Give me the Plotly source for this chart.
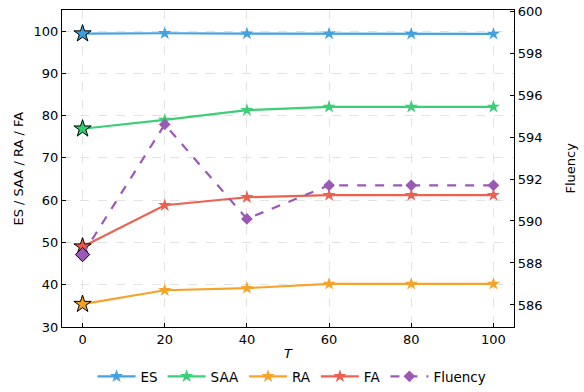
import plotly.graph_objects as go

T = [0, 20, 40, 60, 80, 100]
ES = [99.4, 99.5, 99.4, 99.4, 99.35, 99.35]
SAA = [76.9, 79.0, 81.3, 82.1, 82.1, 82.1]
RA = [35.4, 38.7, 39.2, 40.2, 40.2, 40.2]
FA = [49.0, 58.8, 60.7, 61.2, 61.2, 61.2]
Fluency = [588.4, 594.6, 590.1, 591.7, 591.7, 591.7]

left_ticks = [30, 40, 50, 60, 70, 80, 90, 100]
right_ticks = [586, 588, 590, 592, 594, 596, 598, 600]
x_ticks = [0, 20, 40, 60, 80, 100]

colors = {"ES": "#3a9ee0", "SAA": "#33cc71", "RA": "#f5a020", "FA": "#ea5a48", "Fluency": "#9b59b6"}
series = [("ES", ES), ("SAA", SAA), ("RA", RA), ("FA", FA)]

fig = go.Figure()
for name, vals in series:
    fig.add_trace(go.Scatter(
        x=T, y=vals, name=name, mode="lines+markers",
        line=dict(color=colors[name], width=2.2),
        marker=dict(symbol="star", size=10, color=colors[name]),
        opacity=0.95,
    ))
fig.add_trace(go.Scatter(
    x=T, y=Fluency, name="Fluency", mode="lines+markers", yaxis="y2",
    line=dict(color=colors["Fluency"], width=2.2, dash="dash"),
    marker=dict(symbol="diamond", size=9, color=colors["Fluency"]),
))
# highlighted initial points
for name, vals in series:
    fig.add_trace(go.Scatter(
        x=[T[0]], y=[vals[0]], mode="markers", showlegend=False,
        marker=dict(symbol="star", size=13, color=colors[name], line=dict(color="black", width=1)),
    ))
fig.add_trace(go.Scatter(
    x=[T[0]], y=[Fluency[0]], mode="markers", showlegend=False, yaxis="y2",
    marker=dict(symbol="diamond", size=11, color=colors["Fluency"], line=dict(color="black", width=1)),
))

axis_common = dict(
    showline=True, linecolor="black", linewidth=1.3,
    ticks="inside", ticklen=4, tickcolor="black",
    tickfont=dict(size=13, color="black"), zeroline=False, automargin=False,
)
fig.update_layout(
    width=584, height=392,
    margin=dict(l=62, r=70, t=10, b=65),
    plot_bgcolor="white", paper_bgcolor="white",
    font=dict(family="DejaVu Sans", size=13, color="black"),
    xaxis=dict(range=[-5, 105], tickvals=x_ticks, mirror=True,
               showgrid=True, gridcolor="#e3e3e3", griddash="dash", gridwidth=1,
               title=dict(text="<i>T</i>", font=dict(size=13)), **axis_common),
    yaxis=dict(range=[30, 105], tickvals=left_ticks,
               showgrid=True, gridcolor="#e3e3e3", griddash="dash", gridwidth=1, **axis_common),
    yaxis2=dict(range=[584.95, 600.05], tickvals=right_ticks, overlaying="y", side="right",
                showgrid=False, **axis_common),
    legend=dict(orientation="h", x=0.5, xanchor="center", xref="container",
                y=0.0, yanchor="bottom", yref="container",
                font=dict(size=13.5), itemwidth=38, bgcolor="rgba(0,0,0,0)"),
    showlegend=True,
    annotations=[
        dict(text="ES / SAA / RA / FA", xref="paper", yref="paper", x=0, y=0.5,
             xanchor="center", yanchor="middle", xshift=-44, textangle=-90,
             showarrow=False, font=dict(size=13)),
        dict(text="Fluency", xref="paper", yref="paper", x=1, y=0.5,
             xanchor="center", yanchor="middle", xshift=56, textangle=-90,
             showarrow=False, font=dict(size=13)),
    ],
)
fig.write_html("out.html", config={"displayModeBar": False},
               post_script="document.body.style.margin='0';")
